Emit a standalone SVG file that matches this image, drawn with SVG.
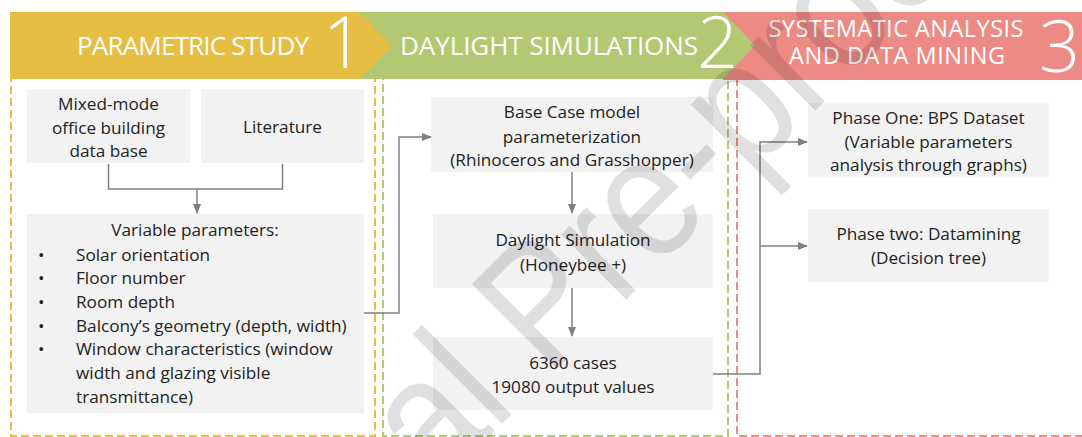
<svg xmlns="http://www.w3.org/2000/svg" width="1082" height="437" viewBox="0 0 1082 437">
  <defs>
    <style>
      .box { fill: #F2F2F2; }
      .t { font-family: "Open Sans", "Liberation Sans", sans-serif; font-size: 17.2px; fill: #222222; }
      .c { text-anchor: middle; }
      .hd { font-family: "Open Sans", "Liberation Sans", sans-serif; fill: #FFFFFF; }
      .num { font-family: "Open Sans", "Liberation Sans", sans-serif; fill: #FFFFFF; font-weight: 300; font-size: 72px; }
      .dash { fill: none; stroke-width: 2; stroke-dasharray: 8 4; }
      .conn { fill: none; stroke: #808080; stroke-width: 1.5; }
      .wm { font-family: "Liberation Sans", sans-serif; font-size: 175px; fill: #000000; fill-opacity: 0.12; }
    </style>
    <marker id="arr" markerUnits="userSpaceOnUse" markerWidth="10" markerHeight="10" viewBox="0 0 10 10" refX="9" refY="5" orient="auto">
      <path d="M0,1 L10,5 L0,9 Z" fill="#808080"/>
    </marker>
  </defs>

  <!-- stage frames -->
  <g id="frames">
    <rect class="dash" x="11" y="78" width="364" height="358" stroke="#E8BE44"/>
    <rect class="dash" x="383" y="78" width="345" height="358" stroke="#B2C872"/>
    <rect class="dash" x="737" y="78" width="360" height="358" stroke="#EE8B84"/>
  </g>

  <!-- header bands -->
  <g id="header-3">
    <polygon points="723,12 1082,12 1082,80 723,80" fill="#EE8A84"/>
    <text class="hd" x="896" y="37" font-size="23.5" text-anchor="middle" textLength="255">SYSTEMATIC ANALYSIS</text>
    <text class="hd" x="897" y="64" font-size="23.5" text-anchor="middle" textLength="216">AND DATA MINING</text>
    <text class="num" x="1039" y="72">3</text>
  </g>
  <g id="header-2">
    <polygon points="360,12 723,12 755,45.5 723,79 360,79" fill="#B3C873"/>
    <text class="hd" x="400" y="55" font-size="26" textLength="298">DAYLIGHT SIMULATIONS</text>
    <text class="num" x="697" y="68">2</text>
  </g>
  <g id="header-1">
    <polygon points="10,12 360,12 392,45.5 360,79 10,79" fill="#E6BE43"/>
    <text class="hd" x="77" y="55" font-size="26" textLength="232">PARAMETRIC STUDY</text>
    <text class="num" x="323" y="68">1</text>
  </g>

  <!-- nodes -->
  <g id="node-database">
    <rect class="box" x="27" y="89" width="163" height="74"/>
    <text class="t c" x="108.5" y="110">Mixed-mode</text>
    <text class="t c" x="108.5" y="134">office building</text>
    <text class="t c" x="108.5" y="157">data base</text>
  </g>
  <g id="node-literature">
    <rect class="box" x="201" y="89" width="163" height="74"/>
    <text class="t c" x="282.5" y="133">Literature</text>
  </g>
  <g id="node-variables">
    <rect class="box" x="27" y="214" width="337" height="199"/>
    <text class="t c" x="195" y="236">Variable parameters:</text>
    <text class="t" x="38" y="261">•</text><text class="t" x="76" y="261">Solar orientation</text>
    <text class="t" x="38" y="284">•</text><text class="t" x="76" y="284">Floor number</text>
    <text class="t" x="38" y="308">•</text><text class="t" x="76" y="308">Room depth</text>
    <text class="t" x="38" y="332">•</text><text class="t" x="76" y="332">Balcony’s geometry (depth, width)</text>
    <text class="t" x="38" y="355">•</text><text class="t" x="76" y="355">Window characteristics (window</text>
    <text class="t" x="76" y="379">width and glazing visible</text>
    <text class="t" x="76" y="403">transmittance)</text>
  </g>
  <g id="node-basecase">
    <rect class="box" x="431" y="97" width="282" height="75"/>
    <text class="t c" x="572" y="118">Base Case model</text>
    <text class="t c" x="572" y="143">parameterization</text>
    <text class="t c" x="572" y="166">(Rhinoceros and Grasshopper)</text>
  </g>
  <g id="node-daylight">
    <rect class="box" x="433" y="214" width="280" height="74"/>
    <text class="t c" x="573" y="246">Daylight Simulation</text>
    <text class="t c" x="573" y="271">(Honeybee +)</text>
  </g>
  <g id="node-cases">
    <rect class="box" x="433" y="337" width="280" height="73"/>
    <text class="t c" x="573" y="369">6360 cases</text>
    <text class="t c" x="573" y="393">19080 output values</text>
  </g>
  <g id="node-phase1">
    <rect class="box" x="808" y="103" width="241" height="74"/>
    <text class="t c" x="928.5" y="124">Phase One: BPS Dataset</text>
    <text class="t c" x="928.5" y="148">(Variable parameters</text>
    <text class="t c" x="928.5" y="171">analysis through graphs)</text>
  </g>
  <g id="node-phase2">
    <rect class="box" x="808" y="209" width="241" height="73"/>
    <text class="t c" x="928.5" y="240">Phase two: Datamining</text>
    <text class="t c" x="928.5" y="264">(Decision tree)</text>
  </g>

  <!-- connectors -->
  <g id="connectors">
    <path class="conn" d="M108.5,164 V189 H282.5 V164"/>
    <path class="conn" d="M197,189 V213" marker-end="url(#arr)"/>
    <path class="conn" d="M364,313 H399 V137 H431" marker-end="url(#arr)"/>
    <path class="conn" d="M572,172 V213" marker-end="url(#arr)"/>
    <path class="conn" d="M572,288 V336" marker-end="url(#arr)"/>
    <path class="conn" d="M713,374 H760 V142 H807" marker-end="url(#arr)"/>
    <path class="conn" d="M760,246 H807" marker-end="url(#arr)"/>
  </g>

  <!-- watermark -->
  <text class="wm" transform="translate(436,490) rotate(-45)" textLength="785" lengthAdjust="spacingAndGlyphs">al Pre-proof</text>
</svg>
